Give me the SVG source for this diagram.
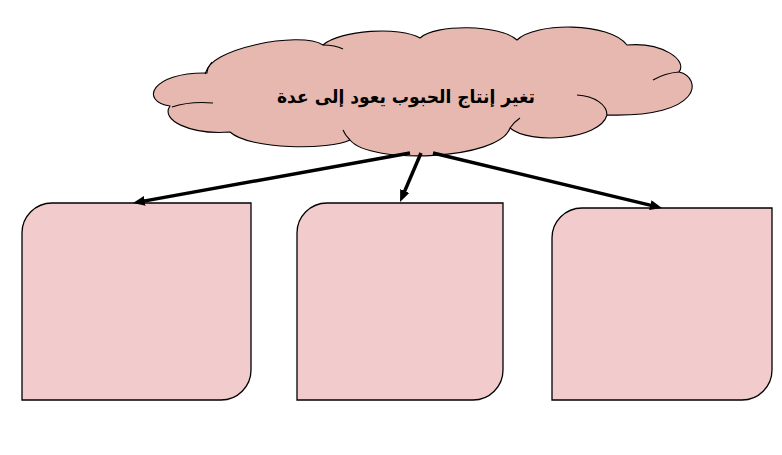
<svg xmlns="http://www.w3.org/2000/svg" width="782" height="455" viewBox="0 0 782 455">
<style>
.cloud{fill:#E6B8AF;stroke:#000;stroke-width:1.1;stroke-linejoin:round}
.inner{fill:none;stroke:#000;stroke-width:1.1}
.box{fill:#F2CCCC;stroke:#000;stroke-width:1.3}
.conn{stroke:#000;stroke-width:3.5;fill:none}
.lbl{font-family:"DejaVu Sans",sans-serif;font-weight:bold;font-size:18px;fill:#000}
</style>
<defs>
<marker id="ah" markerUnits="userSpaceOnUse" markerWidth="13" markerHeight="11" refX="4" refY="5" orient="auto">
<path d="M0,0 L12,5 L0,10 Z" fill="#000"/>
</marker>
</defs>
<rect width="782" height="455" fill="#fff"/>
<g id="cloud">
<path class="cloud" d="M170,106 C140,102 150,72 207,73 C205,50 300,30 323,45 C340,30 400,26 420,38 C435,24 500,24 517,40 C535,22 610,22 627,45 C662,42 688,60 679,72 C702,77 704,118 607,115 C600,140 530,145 510,128 C500,160 370,165 350,140 C330,150 250,150 230,132 C190,135 160,120 170,106 Z"/>
<path class="inner" d="M172,107 Q190,101 213,103"/>
<path class="inner" d="M205,74 Q207,68 212,62"/>
<path class="inner" d="M323,45 Q335,45 343,49"/>
<path class="inner" d="M653,80 Q665,73 679,72"/>
<path class="inner" d="M577,95 C595,96 607,105 607,115"/>
<path class="inner" d="M510,128 Q514,122 520,118"/>
<path class="inner" d="M350,140 Q345,135 343,130"/>
<text class="lbl" x="406" y="103" text-anchor="middle" direction="rtl" textLength="258" lengthAdjust="spacingAndGlyphs">تغير إنتاج الحبوب يعود إلى عدة</text>
</g>
<g id="box1"><path class="box" d="M52,203 H251 V370 A30,30 0 0 1 221,400 H22 V233 A30,30 0 0 1 52,203 Z"/></g>
<g id="box2"><path class="box" d="M327,203 H503 V370 A30,30 0 0 1 473,400 H297 V233 A30,30 0 0 1 327,203 Z"/></g>
<g id="box3"><path class="box" d="M582,208 H772 V370 A30,30 0 0 1 742,400 H552 V238 A30,30 0 0 1 582,208 Z"/></g>
<g id="connectors">
<line class="conn" x1="410" y1="153" x2="140.9" y2="201.6" marker-end="url(#ah)"/>
<line class="conn" x1="421" y1="153" x2="403.2" y2="194.6" marker-end="url(#ah)"/>
<line class="conn" x1="433" y1="153" x2="654.2" y2="206.1" marker-end="url(#ah)"/>
</g>
</svg>
